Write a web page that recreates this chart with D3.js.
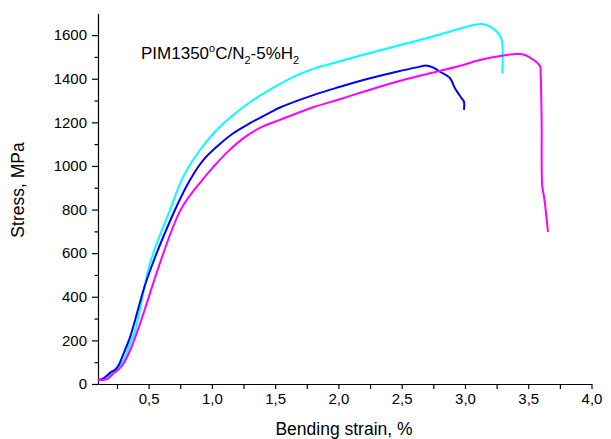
<!DOCTYPE html>
<html>
<head>
<meta charset="utf-8">
<script src="https://cdn.jsdelivr.net/npm/d3@7"></script>
<style>
  html, body { margin: 0; padding: 0; background: #fff; }
  svg { display: block; font-family: Arial, "Liberation Sans", sans-serif; }
</style>
</head>
<body>
<svg id="chart" width="611" height="439"></svg>
<script>
// ---- data ----
const cyanStrain = [0.10, 0.17, 0.237, 0.29, 0.355, 0.395, 0.511, 0.669, 0.774, 0.906, 1.038, 1.169, 1.301, 1.459, 1.65, 1.801, 2.012, 2.197, 2.461, 2.724, 2.987, 3.132, 3.198, 3.263, 3.29, 3.295];
const cyanStress = [18, 33, 64, 95, 187, 248, 554, 798, 951, 1073, 1165, 1234, 1292, 1350, 1410, 1445, 1480, 1510, 1550, 1590, 1634, 1651, 1639, 1608, 1578, 1425];

const blueStrain = [0.10, 0.145, 0.197, 0.237, 0.264, 0.303, 0.355, 0.485, 0.708, 0.827, 0.932, 1.038, 1.169, 1.301, 1.459, 1.538, 1.801, 2.012, 2.197, 2.461, 2.619, 2.698, 2.75, 2.803, 2.882, 2.921, 2.974, 2.992, 2.992];
const blueStress = [18, 26, 52, 67, 87, 141, 217, 477, 798, 936, 1027, 1088, 1150, 1196, 1245, 1268, 1325, 1363, 1394, 1432, 1452, 1460, 1451, 1432, 1402, 1356, 1310, 1295, 1257];

const magentaStrain = [0.10, 0.118, 0.171, 0.224, 0.264, 0.303, 0.355, 0.415, 0.75, 0.93, 1.011, 1.13, 1.275, 1.40, 1.538, 1.801, 2.012, 2.197, 2.461, 2.724, 2.987, 3.066, 3.198, 3.33, 3.409, 3.474, 3.593, 3.598, 3.606, 3.611, 3.625, 3.656];
const magentaStress = [18, 18, 22, 49, 67, 95, 156, 248, 795, 940, 995, 1068, 1138, 1180, 1211, 1269, 1306, 1340, 1386, 1425, 1463, 1478, 1496, 1509, 1513, 1509, 1458, 1425, 1211, 905, 859, 698];

const xTickValues = [0.5, 1.0, 1.5, 2.0, 2.5, 3.0, 3.5, 4.0];
const xTickLabels = ["0,5", "1,0", "1,5", "2,0", "2,5", "3,0", "3,5", "4,0"];
const yTickValues = [0, 200, 400, 600, 800, 1000, 1200, 1400, 1600];

const seriesColors = ["#00ffff", "#0000ff", "#ff00ff"];

// ---- layout ----
const svg = d3.select("#chart");
const plotLeft = 98, plotRight = 591.5, plotTop = 13.3, plotBottom = 384;

const x = d3.scaleLinear().domain([0.1, 4.0]).range([plotLeft, plotRight]);
const y = d3.scaleLinear().domain([0, 1700]).range([plotBottom, plotTop]);

// minor ticks
const xMinor = d3.range(0.25, 4.01, 0.25).filter(v => !xTickValues.some(t => Math.abs(t - v) < 1e-6));
const yMinor = d3.range(100, 1700, 200);

// x axis
const gx = svg.append("g").attr("transform", `translate(0,${plotBottom})`);
gx.call(d3.axisBottom(x).tickValues(xTickValues).tickFormat((d, i) => xTickLabels[i]).tickSize(5).tickSizeOuter(0).tickPadding(4));
gx.append("g").call(d3.axisBottom(x).tickValues(xMinor).tickFormat("").tickSize(5).tickSizeOuter(0)).select(".domain").remove();

// y axis
const gy = svg.append("g").attr("transform", `translate(${plotLeft},0)`);
gy.call(d3.axisLeft(y).tickValues(yTickValues).tickFormat(d3.format("d")).tickSize(6).tickSizeOuter(0).tickPadding(5));
gy.append("g").call(d3.axisLeft(y).tickValues(yMinor).tickFormat("").tickSize(3.5).tickSizeOuter(0)).select(".domain").remove();

svg.selectAll(".domain, .tick line").attr("stroke", "#000").attr("stroke-width", 1.2);
svg.selectAll(".tick text").attr("font-size", 15).attr("fill", "#000").attr("font-family", "Arial, 'Liberation Sans', sans-serif");

// axis titles
svg.append("text")
  .attr("x", 344).attr("y", 435)
  .attr("text-anchor", "middle")
  .attr("font-size", 17.5)
  .text("Bending strain, %");

svg.append("text")
  .attr("transform", "translate(24,190) rotate(-90)")
  .attr("text-anchor", "middle")
  .attr("font-size", 17.5)
  .text("Stress, MPa");

// lines
const line = d3.line().curve(d3.curveCatmullRom.alpha(0.5)).x(d => x(d[0])).y(d => y(d[1]));
const series = [
  d3.zip(cyanStrain, cyanStress),
  d3.zip(blueStrain, blueStress),
  d3.zip(magentaStrain, magentaStress)
];
svg.append("g").selectAll("path")
  .data(series)
  .join("path")
  .attr("d", line)
  .attr("fill", "none")
  .attr("stroke", (d, i) => seriesColors[i])
  .attr("stroke-width", 2)
  .attr("stroke-linejoin", "round");

// annotation
const t = svg.append("text")
  .attr("x", 141).attr("y", 59)
  .attr("font-size", 17);
t.append("tspan").text("PIM1350");
t.append("tspan").attr("font-size", 11).attr("dy", -7).text("o");
t.append("tspan").attr("dy", 7).text("C/N");
t.append("tspan").attr("font-size", 11).attr("dy", 5).text("2");
t.append("tspan").attr("dy", -5).text("-5%H");
t.append("tspan").attr("font-size", 11).attr("dy", 5).text("2");
</script>
</body>
</html>
